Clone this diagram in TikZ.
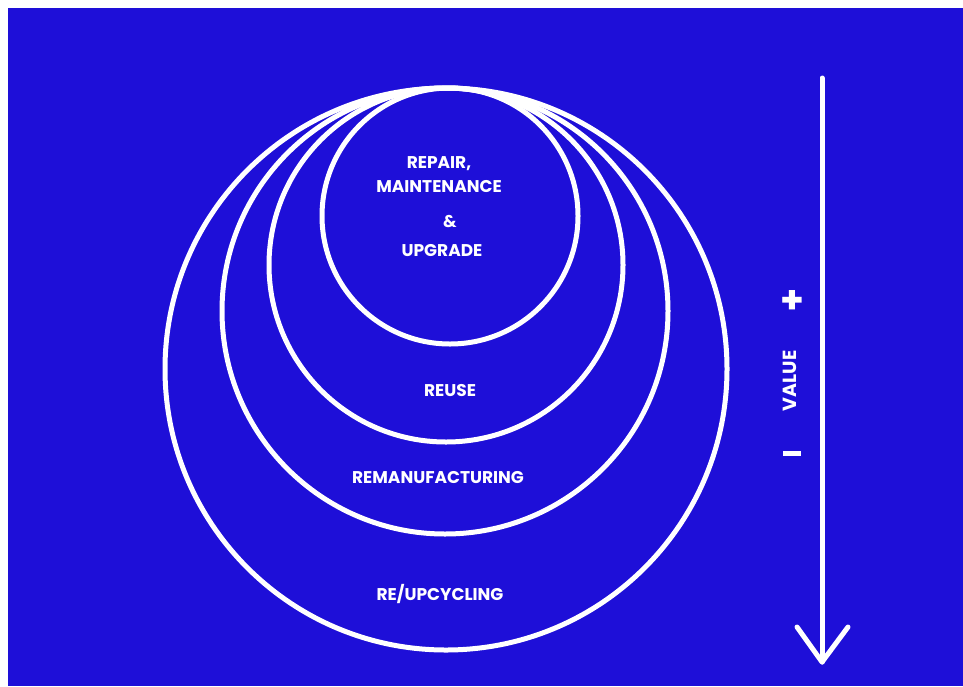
\documentclass[tikz,border=0pt]{standalone}
\usepackage{fontspec}
\setmainfont{Poppins}
\usetikzlibrary{positioning,calc}
\definecolor{bgblue}{HTML}{1E0FD8}
\tikzset{
  x=1pt, y=-1pt,
  every node/.style={font=\bfseries\fontsize{17}{24}\selectfont, text=white, align=center},
  ring/.style={draw=white, line width=5pt, circle, inner sep=0pt},
  valline/.style={draw=white, line width=5pt, line cap=round, line join=round},
  sign/.style={font=\bfseries\fontsize{38}{38}\selectfont, inner sep=0pt},
  bar/.style={fill=white, inner sep=0pt, minimum width=18pt, minimum height=5pt},
}
\begin{document}
\begin{tikzpicture}
  \useasboundingbox (0,0) rectangle (963,686);
  \fill[white] (0,0) rectangle (963,686);
  \fill[bgblue] (8,8) rectangle (963,686);

  % nested circles, all touching at the top
  \node[ring, minimum size=562pt] (recyc) at (446,369) {};
  \node[ring, minimum size=446pt] (reman) at (445,311) {};
  \node[ring, minimum size=354pt] (reuse) at (446,265) {};
  \node[ring, minimum size=256pt] (repair) at (450,216) {};

  \node (trepair) at (439,175) {REPAIR,\\MAINTENANCE};
  \node (tamp) at (450,222) {\&};
  \node (tupg) at (442,251) {UPGRADE};
  \node (treuse) at (450,390) {REUSE};
  \node (treman) at (438,478) {REMANUFACTURING};
  \node (trecyc) at (440,594) {RE/UPCYCLING};

  % value arrow
  \coordinate (vtop) at (822,78);
  \coordinate (vtip) at (822,662);
  \coordinate (vl) at (797,627);
  \coordinate (vr) at (848,627);
  \draw[valline] (vtop) -- (vtip);
  \draw[valline] (vl) -- (vtip) -- (vr);

  \node[sign] (plus) at (792,302) {+};
  \node[rotate=90, font=\bfseries\fontsize{19}{19}\selectfont] (value) at (790,381) {VALUE};
  \node[bar] (minus) at (792,453) {};
\end{tikzpicture}
\end{document}
